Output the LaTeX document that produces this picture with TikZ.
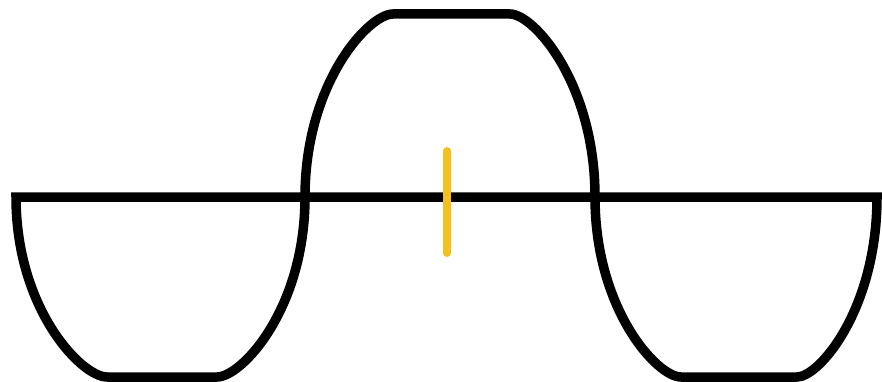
\documentclass[tikz,border=0pt]{standalone}
\definecolor{wavegold}{RGB}{243,192,30}
\begin{document}
\begin{tikzpicture}[x=1pt,y=-1pt,
  wave/.style={line width=9.5pt,line join=miter,draw=black},
  marker/.style={line width=8pt,line cap=round,draw=wavegold}]
\useasboundingbox (0,0) rectangle (882,382);
\coordinate (s) at (16,197);
\coordinate (b1l) at (107,377);
\coordinate (b1r) at (217,377);
\coordinate (x1) at (305,197);
\coordinate (tl) at (393,14);
\coordinate (tr) at (510,14);
\coordinate (x2) at (595,197);
\coordinate (b2l) at (681,377);
\coordinate (b2r) at (797,377);
\coordinate (e) at (877,197);
\draw[wave] (s) .. controls (16,309) and (81.5,377) .. (b1l)
  -- (b1r) .. controls (241.6,377) and (305,309) .. (x1)
  .. controls (305,83.5) and (368.4,14) .. (tl)
  -- (tr) .. controls (533.8,14) and (595,83.5) .. (x2)
  .. controls (595,309) and (656.9,377) .. (b2l)
  -- (b2r) .. controls (819.4,377) and (877,309) .. (e)
  -- cycle;
\coordinate (mt) at (447,151);
\coordinate (mb) at (447,253);
\draw[marker] (mt) -- (mb);
\end{tikzpicture}
\end{document}
